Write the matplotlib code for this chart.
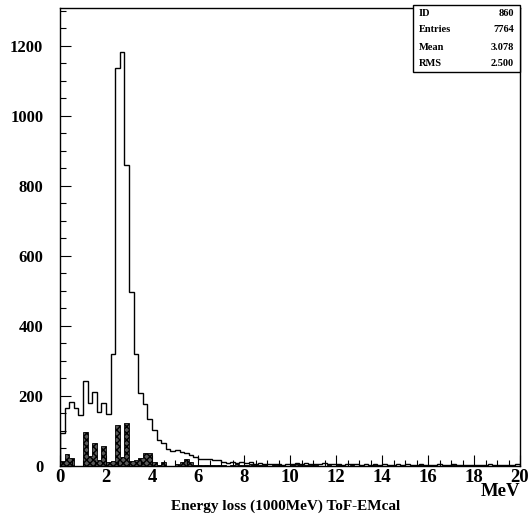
import numpy as np
import matplotlib
matplotlib.use('Agg')
import matplotlib.pyplot as plt
from matplotlib.ticker import MultipleLocator
from matplotlib.patches import Rectangle

plt.rcParams['font.family'] = ['Liberation Serif', 'DejaVu Serif']
plt.rcParams['font.weight'] = 'bold'

# 100 bins of 0.2 MeV from 0 to 20
edges = np.linspace(0, 20, 101)

all_counts = [95, 165, 184, 165, 146, 243, 179, 211, 155, 179,
              148, 320, 1136, 1182, 860, 498, 320, 208, 177, 133,
              103, 74, 65, 48, 44, 46, 40, 36, 31, 26,
              20, 19, 19, 18, 16, 11, 9, 12, 8, 10,
              9, 11, 7, 8, 7, 5, 6, 5, 4, 6,
              7, 8, 6, 9, 7, 6, 5, 8, 6, 5,
              6, 4, 5, 7, 5, 4, 6, 3, 5, 4,
              5, 3, 4, 6, 4, 5, 3, 4, 5, 3,
              4, 3, 5, 3, 4, 6, 3, 4, 2, 4,
              3, 4, 3, 5, 2, 4, 3, 3, 4, 5]

cut_counts = [15, 33, 24, 0, 0, 96, 28, 65, 18, 56,
              10, 15, 117, 27, 122, 15, 18, 22, 38, 36,
              12, 3, 12, 0, 0, 6, 12, 19, 10, 3,
              2, 3, 4, 2, 3, 2, 0, 4, 5, 3,
              2, 6, 3, 2, 4, 0, 3, 2, 4, 0,
              3, 5, 2, 4, 2, 3, 1, 0, 2, 0,
              2, 0, 1, 2, 0, 0, 1, 0, 2, 0,
              0, 1, 2, 0, 0, 1, 0, 0, 2, 1,
              0, 0, 1, 0, 0, 2, 0, 0, 1, 0,
              0, 1, 0, 0, 1, 0, 0, 0, 2, 0]

stat_names = ['ID', 'Entries', 'Mean', 'RMS']
stat_values = ['860', '7764', '3.078', '2.500']

W, H = 531, 522
fig = plt.figure(figsize=(W / 100, H / 100), dpi=100)
ax = fig.add_axes([60 / W, 1 - 466 / H, 460 / W, 458 / H])

ax.stairs(cut_counts, edges, fill=True, facecolor='0.35', edgecolor='black',
          hatch='xxxxx', linewidth=0.6)
ax.stairs(all_counts, edges, color='black', linewidth=1.0)

ax.set_xlim(0, 20)
ax.set_ylim(0, 1308)

ax.xaxis.set_major_locator(MultipleLocator(2))
ax.xaxis.set_minor_locator(MultipleLocator(0.5))
ax.yaxis.set_major_locator(MultipleLocator(200))
ax.yaxis.set_minor_locator(MultipleLocator(50))
ax.tick_params(which='both', direction='in', top=False, right=False, width=0.8)
ax.tick_params(which='major', length=8)
ax.tick_params(which='minor', length=4)
ax.tick_params(axis='x', labelsize=13.5, pad=2)
ax.tick_params(axis='y', labelsize=12, pad=12)
for lab in ax.get_xticklabels() + ax.get_yticklabels():
    lab.set_fontweight('bold')
for sp in ax.spines.values():
    sp.set_linewidth(1.0)

fig.text(520 / W, 1 - 491 / H, 'MeV', ha='right', va='center', fontsize=13.5, fontweight='bold')
fig.text(286 / W, 1 - 506 / H, 'Energy loss (1000MeV) ToF-EMcal', ha='center', va='center',
         fontsize=11, fontweight='bold')

# statistics box
bx0, bx1, by0, by1 = 413, 520, 5, 72
fig.patches.append(Rectangle((bx0 / W, 1 - by1 / H), (bx1 - bx0) / W, (by1 - by0) / H,
                             transform=fig.transFigure, facecolor='white', edgecolor='black',
                             linewidth=1.0, zorder=5))
for i, (name, val) in enumerate(zip(stat_names, stat_values)):
    yy = 1 - (13 + i * 17) / H
    fig.text(419 / W, yy, name, ha='left', va='center', fontsize=7.5, fontweight='bold', zorder=6)
    fig.text(514 / W, yy, val, ha='right', va='center', fontsize=7.5, fontweight='bold', zorder=6)

fig.savefig('out.png', dpi=100)
